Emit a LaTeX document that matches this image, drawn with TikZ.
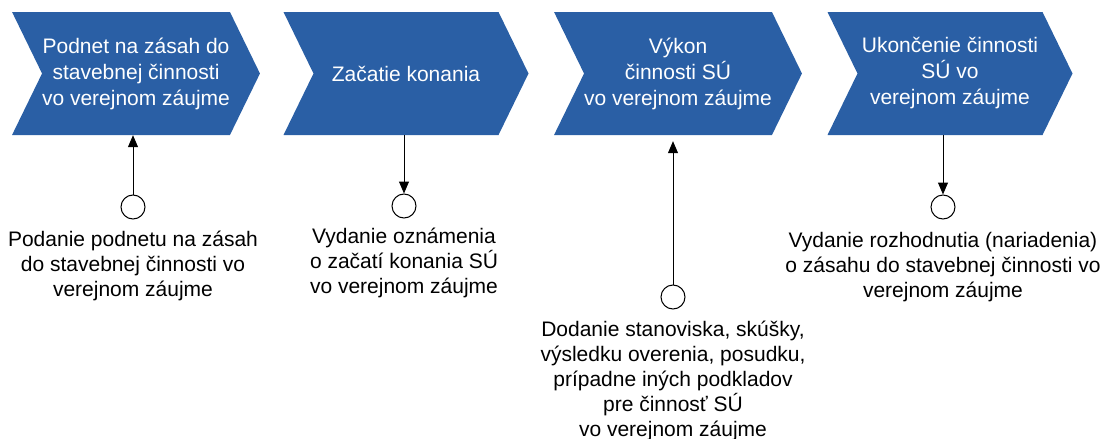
\documentclass[tikz,border=0pt]{standalone}
\usepackage{fontspec}
\setmainfont{Liberation Sans}
\usetikzlibrary{shapes.symbols,arrows.meta,positioning}
\definecolor{chevblue}{HTML}{2A5FA5}

\tikzset{
  stepbox/.style={signal, signal from=west, signal to=east,
    signal pointer angle=128, fill=chevblue, text=white,
    minimum width=245pt, minimum height=123pt, inner sep=0pt,
    align=center, font=\fontsize{21}{26}\selectfont},
  event/.style={circle, draw, line width=1pt, minimum size=24pt, inner sep=0pt},
  note/.style={align=center, inner sep=0pt, font=\fontsize{21}{25}\selectfont},
  flow/.style={-{Triangle[length=12pt,width=10pt]}, line width=1pt},
}

\begin{document}
\begin{tikzpicture}[x=1pt,y=-1pt]
        \useasboundingbox (0,0) rectangle (1104,439);

        \path
        (136,73.5) node[stepbox] (S1) {Podnet na zásah do\\stavebnej činnosti\\vo verejnom záujme}
        (406,73.5) node[stepbox] (S2) {Začatie konania}
        (678,73.5) node[stepbox] (S3) {Výkon\\činnosti SÚ\\vo verejnom záujme}
        (950,73.5) node[stepbox] (S4) {Ukončenie činnosti\\SÚ vo\\verejnom záujme}
        ;

        \path
        (133,207) node[event] (E1) {}
        (404,206) node[event] (E2) {}
        (673,297) node[event] (E3) {}
        (943,207) node[event] (E4) {}
        ;

        \node[note, below=11pt of E1] (L1) {Podanie podnetu na zásah\\do stavebnej činnosti vo\\verejnom záujme};
        \node[note, below=9pt of E2] (L2) {Vydanie oznámenia\\o začatí konania SÚ\\vo verejnom záujme};
        \node[note, below=11pt of E3] (L3) {Dodanie stanoviska, skúšky,\\výsledku overenia, posudku,\\prípadne iných podkladov\\pre činnosť SÚ\\vo verejnom záujme};
        \node[note, below=13pt of E4] (L4) {Vydanie rozhodnutia (nariadenia)\\o zásahu do stavebnej činnosti vo\\verejnom záujme};

        \draw[flow] (E1.north) -- (E1.north |- S1.south);
        \draw[flow] (E2.north |- S2.south) -- (E2.north);
        \draw[flow, shorten >=6pt] (E3.north) -- (E3.north |- S3.south);
        \draw[flow] (E4.north |- S4.south) -- (E4.north);
      \end{tikzpicture}
\end{document}
